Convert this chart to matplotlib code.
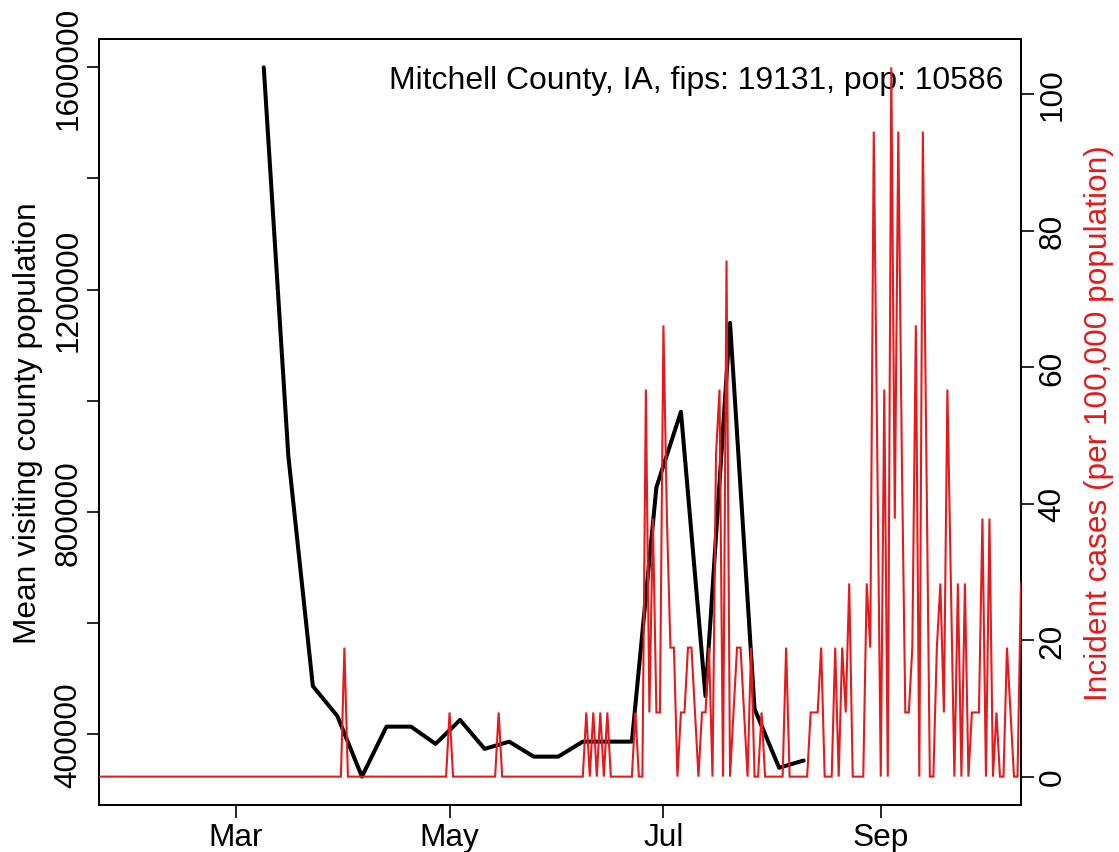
import matplotlib
matplotlib.use('Agg')
import matplotlib.pyplot as plt
import numpy as np

plt.rcParams['font.family'] = ['Liberation Sans', 'DejaVu Sans']

# ---------------- data ----------------
title_text = "Mitchell County, IA, fips: 19131, pop: 10586"

# weekly mean visiting county population (black), Mondays from 2020-03-09
visit_dates = np.array(['2020-03-09', '2020-03-16', '2020-03-23', '2020-03-30',
                        '2020-04-06', '2020-04-13', '2020-04-20', '2020-04-27',
                        '2020-05-04', '2020-05-11', '2020-05-18', '2020-05-25',
                        '2020-06-01', '2020-06-08', '2020-06-15', '2020-06-22',
                        '2020-06-29', '2020-07-06', '2020-07-13', '2020-07-20',
                        '2020-07-27', '2020-08-03', '2020-08-10'], dtype='datetime64[D]')
visit_pop = [1600000, 901000, 486000, 432000,
             323000, 413000, 413000, 382000,
             425000, 373000, 386000, 359000,
             359000, 386000, 386000, 386000,
             844000, 980000, 468000, 1140000,
             445000, 339000, 352000]

# daily incident cases per 100,000 population (red), from 2020-01-22
case_start = '2020-01-22'
incidence = [
    # Jan 22 - Jan 31
    0, 0, 0, 0, 0, 0, 0, 0, 0, 0,
    # Feb 1 - Feb 29
    0, 0, 0, 0, 0, 0, 0, 0, 0, 0, 0, 0, 0, 0, 0, 0, 0, 0, 0, 0,
    0, 0, 0, 0, 0, 0, 0, 0, 0,
    # Mar 1 - Mar 31
    0, 0, 0, 0, 0, 0, 0, 0, 0, 0, 0, 0, 0, 0, 0, 0, 0, 0, 0, 0,
    0, 0, 0, 0, 0, 0, 0, 0, 0, 0, 0,
    # Apr 1 - Apr 30
    18.9, 0, 0, 0, 0, 0, 0, 0, 0, 0, 0, 0, 0, 0, 0, 0, 0, 0, 0, 0,
    0, 0, 0, 0, 0, 0, 0, 0, 0, 0,
    # May 1 - May 31
    9.4, 0, 0, 0, 0, 0, 0, 0, 0, 0, 0, 0, 0, 0, 9.4, 0, 0, 0, 0, 0,
    0, 0, 0, 0, 0, 0, 0, 0, 0, 0, 0,
    # Jun 1 - Jun 30
    0, 0, 0, 0, 0, 0, 0, 0, 9.4, 0, 9.4, 0, 9.4, 0, 9.4, 0, 0, 0, 0, 0,
    0, 0, 9.4, 0, 0, 56.7, 9.4, 37.8, 9.4, 9.4,
    # Jul 1 - Jul 31
    66.1, 37.8, 18.9, 18.9, 0, 9.4, 9.4, 18.9, 18.9, 9.4,
    0, 9.4, 9.4, 18.9, 0, 47.2, 56.7, 0, 75.6, 0,
    9.4, 18.9, 18.9, 9.4, 0, 18.9, 0, 0, 9.4, 0, 0,
    # Aug 1 - Aug 31
    0, 0, 0, 0, 18.9, 0, 0, 0, 0, 0, 0, 9.4, 9.4, 9.4, 18.9, 0, 0, 0, 18.9, 0,
    18.9, 9.4, 28.3, 0, 0, 0, 0, 28.3, 18.9, 94.5, 47.2,
    # Sep 1 - Sep 30
    0, 56.7, 0, 103.9, 37.8, 94.5, 47.2, 9.4, 9.4, 18.9,
    66.1, 0, 94.5, 47.2, 0, 0, 18.9, 28.3, 9.4, 56.7,
    28.3, 0, 28.3, 0, 28.3, 0, 9.4, 9.4, 9.4, 37.8,
    # Oct 1 - Oct 11
    0, 37.8, 0, 9.4, 0, 0, 18.9, 9.4, 0, 0, 28.3,
]

month_ticks = np.array(['2020-03-01', '2020-05-01', '2020-07-01', '2020-09-01'], dtype='datetime64[D]')
month_labels = ['Mar', 'May', 'Jul', 'Sep']
left_ticks = [400000, 600000, 800000, 1000000, 1200000, 1400000, 1600000]
left_labels = ['400000', '', '800000', '', '1200000', '', '1600000']
right_ticks = [0, 20, 40, 60, 80, 100]

RED = '#E41A1C'
FS = 22.8

# ---------------- plot ----------------
case_dates = np.datetime64(case_start) + np.arange(len(incidence)).astype('timedelta64[D]')

W, H = 1119, 853
fig = plt.figure(figsize=(W / 100, H / 100), dpi=100)
ax = fig.add_axes([99 / W, 47 / H, 922 / W, 766 / H])

ax.plot(visit_dates, visit_pop, color='black', lw=2.9,
        solid_joinstyle='round', solid_capstyle='round', zorder=2)
vmin, vmax = min(visit_pop), max(visit_pop)
vr = vmax - vmin
ax.set_ylim(vmin - 0.04 * vr, vmax + 0.04 * vr)
ax.set_xlim(case_dates[0], case_dates[-1])

ax.set_xticks(month_ticks)
ax.set_xticklabels(month_labels, fontsize=FS)
ax.set_yticks(left_ticks)
ax.set_yticklabels(left_labels, fontsize=FS, rotation=90, va='center')
ax.tick_params(axis='both', direction='out', length=9, width=1.2, color='black')
ax.tick_params(axis='x', pad=3)
ax.tick_params(axis='y', pad=2)

ax2 = ax.twinx()
ax2.plot(case_dates, incidence, color=RED, lw=1.5,
         solid_joinstyle='miter', zorder=3)
cmax = max(incidence)
ax2.set_ylim(-0.04 * cmax, cmax * 1.04)
ax2.set_yticks(right_ticks)
ax2.set_yticklabels([str(t) for t in right_ticks], fontsize=FS, rotation=90, va='center')
ax2.tick_params(axis='y', direction='out', length=9, width=1.2, pad=3)

for a in (ax, ax2):
    for s in a.spines.values():
        s.set_linewidth(1.4)
        s.set_color('black')

ax.text(0.9805, 0.9465, title_text, transform=ax.transAxes, ha='right', va='center',
        fontsize=22.95, zorder=5)

# axis titles placed as in the reference
fig.text(28 / W, 1 - 423 / H, 'Mean visiting county population', rotation=90,
         ha='center', va='center', fontsize=FS)
fig.text(1099 / W, 1 - 423 / H, 'Incident cases (per 100,000 population)', rotation=90,
         ha='center', va='center', fontsize=FS, color=RED)

fig.savefig('out.png', dpi=100)
